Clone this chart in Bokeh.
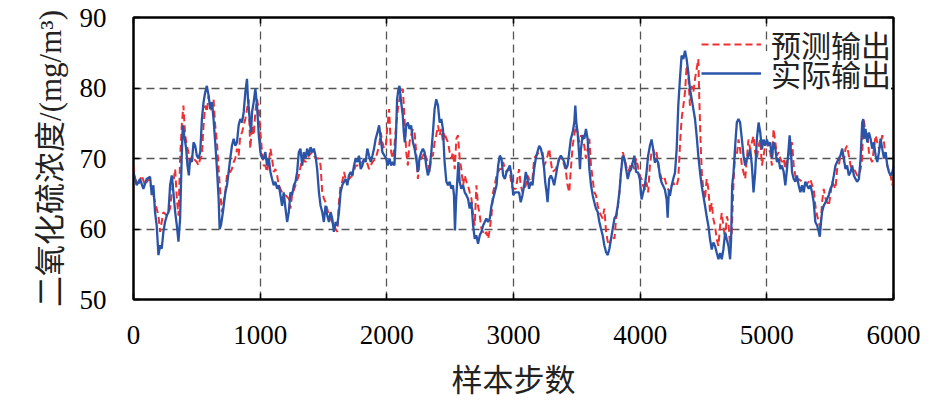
from bokeh.plotting import figure
from bokeh.models import Range1d, LinearAxis, FixedTicker, Legend, LegendItem
from bokeh.embed import file_html
from bokeh.resources import INLINE

# ---- data ----
actual_x = [0,25,51,78,104,131,144,157,170,183,197,210,223,236,249,263,276,289,302,315,329,342,355,368,381,389,400,416,426,437,447,461,474,487,500,513,527,540,553,566,579,593,606,619,632,645,659,672,680,690,706,725,738,751,764,777,791,804,817,830,843,857,870,883,896,904,917,928,936,949,962,975,989,1002,1015,
 1028,1041,1054,1068,1081,1094,1107,1120,1134,1147,1160,1173,1186,1200,1213,1226,1239,1252,1266,1279,1292,1305,1318,1332,1345,1358,1371,1384,1398,1411,1424,1437,1450,1464,1477,1490,1503,1516,1530,1543,1556,1569,1582,1596,1609,1622,1635,1648,1662,1675,1688,1701,1714,1728,1741,1754,1767,1780,1794,1807,1820,1833,1846,1860,1873,1886,1899,1912,1926,1939,1952,1965,
 1981,1994,2007,2021,2034,2047,2060,2073,2081,2092,2100,2113,2126,2134,2142,2153,2166,2179,2192,2206,2219,2232,2245,2258,2272,2285,2298,2311,2324,2338,2351,2364,2377,2390,2404,2417,2430,2443,2456,2470,2483,2496,2509,2522,2530,2538,2546,2554,2565,2575,2588,2602,2615,2628,2641,2654,2668,2681,2694,2707,2720,2734,2747,2760,2773,2786,2800,2813,2826,2839,2852,2866,2879,2892,2905,2918,2932,2945,2958,2971,2984,2998,3011,
 3031,3044,3057,3071,3084,3097,3110,3123,3137,3150,3163,3176,3189,3203,3216,3229,3242,3250,3261,3269,3282,3295,3308,3321,3335,3348,3361,3374,3387,3401,3414,3427,3440,3453,3467,3480,3488,3496,3506,3519,3525,3533,3546,3559,3572,3585,3599,3612,3625,3638,3651,3665,3678,3691,3704,3717,3731,3744,3757,3770,3783,3797,3810,3823,3836,3849,3863,3876,3889,3902,3915,3929,3942,3955,3968,
 3984,3997,4011,4024,4037,4050,4063,4077,4090,4103,4116,4129,4143,4156,4169,4182,4195,4209,4217,4227,4235,4248,4261,4275,4288,4301,4314,4327,4341,4354,4367,4380,4393,4407,4420,4433,4446,4459,4473,4486,4499,4512,4525,4539,4552,4565,4578,4591,4605,4618,4631,4644,4657,4671,4684,4697,4710,4718,4726,4737,4750,4763,4776,4789,4803,4816,4829,4842,4855,4869,4882,4895,4908,4921,4935,4948,4961,4974,4987,5001,5014,
 5027,5040,5053,5067,5080,5093,5106,5119,5133,5146,5159,5172,5180,5191,5199,5212,5225,5238,5251,5265,5278,5291,5304,5317,5331,5344,5357,5370,5383,5397,5410,5418,5428,5436,5449,5463,5476,5489,5502,5515,5529,5542,5555,5568,5581,5595,5608,5621,5634,5647,5661,5674,5687,5700,5713,5727,5740,5753,5761,5769,5779,5793,5806,5819,5832,5845,5859,5872,5885,5898,5911,5925,5938,5951,5964,5977,5991,6000]
actual_y = [68.1,66.2,67.1,65.7,67.1,67.4,64.8,66.2,62.4,60.5,56.3,57.7,57.2,59.6,61.0,61.9,62.4,66.2,67.6,65.2,62.4,60.5,58.2,61.5,70.4,74.7,73.3,71.4,69.0,67.6,70.0,69.5,72.3,71.8,70.4,70.0,70.9,75.6,78.0,79.4,80.3,78.9,77.0,78.0,75.6,72.3,68.5,64.3,60.0,60.5,62.4,65.2,66.2,68.1,70.0,71.8,72.8,71.8,72.3,74.7,75.6,75.1,76.6,79.4,81.3,78.4,75.6,73.7,76.6,78.0,79.9,77.5,73.3,70.9,70.0,
 70.0,70.9,69.0,70.0,68.1,67.1,66.2,66.7,65.7,66.2,64.8,63.3,65.2,62.9,61.0,62.4,65.2,64.8,66.2,66.7,68.1,70.9,71.4,69.0,70.9,70.0,71.4,70.4,71.6,70.9,71.4,70.4,68.5,65.2,63.3,62.4,61.0,63.3,61.9,61.0,62.4,61.5,59.6,61.0,60.5,62.4,65.2,66.2,66.7,67.1,66.2,67.6,68.1,67.6,69.0,70.0,69.5,70.4,68.5,69.0,70.0,69.5,71.4,70.4,69.5,70.4,71.4,72.8,73.7,74.7,72.8,70.9,
 70.4,70.0,69.0,70.0,69.0,69.5,69.0,73.7,78.4,79.9,80.3,78.0,76.1,73.7,72.3,74.7,75.1,74.2,74.7,72.3,71.4,70.0,68.1,70.0,70.9,71.4,70.9,69.0,67.6,68.5,70.9,73.7,77.0,78.4,77.5,75.1,75.6,74.2,69.5,66.7,66.2,66.7,65.7,66.2,64.8,59.8,63.8,66.2,69.5,66.7,65.7,66.2,65.2,64.8,64.3,62.9,63.8,60.5,58.6,59.1,57.9,59.1,59.6,60.5,61.0,61.5,61.0,61.5,63.3,64.3,65.2,66.2,69.0,70.4,70.0,67.6,67.1,68.1,68.5,69.0,67.6,64.8,65.2,
 65.2,65.2,63.8,64.8,66.2,68.1,67.1,65.7,66.7,66.2,68.5,70.0,70.9,71.8,71.4,70.4,68.5,66.7,65.2,63.8,67.1,67.6,67.1,66.2,67.6,69.0,70.0,70.4,70.0,69.5,68.5,69.0,70.9,72.8,73.7,75.1,77.5,75.1,73.7,70.4,68.5,71.4,73.3,72.8,74.2,72.8,68.5,66.2,64.8,63.8,62.9,62.4,61.0,60.0,59.1,57.7,56.7,56.3,57.2,58.6,60.0,61.5,61.9,63.3,65.2,68.1,70.4,70.0,68.5,67.1,68.1,68.5,69.5,70.4,68.1,
 68.0,67.1,64.2,65.2,66.1,68.0,70.4,71.8,72.7,71.3,69.4,69.9,69.4,67.5,66.6,66.1,65.6,64.2,61.6,65.6,64.7,66.1,67.1,68.0,71.3,77.5,81.3,84.6,84.1,85.3,84.1,82.2,79.9,78.4,77.0,75.6,73.2,70.4,68.0,66.1,64.7,63.3,61.8,60.4,58.5,57.1,58.1,57.6,56.6,55.7,56.6,55.7,57.1,59.5,58.5,57.6,55.7,58.5,66.1,68.0,71.8,75.1,75.6,75.1,72.7,70.4,69.0,69.9,70.4,71.3,69.0,65.2,68.0,72.7,75.1,73.7,71.3,72.7,71.8,72.7,71.8,
 72.3,70.0,72.3,71.4,69.5,70.0,68.5,69.0,68.1,66.2,68.5,71.4,73.3,70.9,68.1,67.1,66.7,67.6,66.2,65.2,66.2,65.2,66.7,66.2,65.7,66.2,65.2,63.8,61.0,60.5,59.6,58.9,61.0,62.4,63.3,63.8,64.3,64.8,65.7,66.2,67.6,69.0,69.5,70.0,70.4,71.4,70.0,68.5,69.0,67.6,68.1,69.0,67.6,67.1,66.7,67.1,70.0,75.1,75.6,72.8,74.2,72.3,73.7,72.8,71.4,72.3,70.4,69.5,70.9,72.8,71.4,70.0,70.9,69.0,68.1,67.6,68.1,68.8]

pred_x = [0,12,38,65,91,117,144,170,197,210,223,236,263,289,302,315,329,342,355,368,381,394,408,421,434,447,461,474,500,513,527,540,553,566,579,593,606,619,632,645,659,672,685,698,711,725,738,751,764,777,791,804,817,830,843,857,870,883,896,909,922,936,949,962,975,989,1002,1015,1028,
 1041,1054,1068,1081,1094,1107,1120,1134,1147,1173,1200,1226,1239,1252,1279,1305,1332,1358,1384,1411,1437,1464,1477,1490,1503,1516,1543,1569,1596,1609,1622,1635,1648,1662,1675,1701,1728,1754,1780,1807,1833,1860,1886,1912,1939,1952,1965,1978,1992,2005,2018,
 2034,2047,2060,2073,2087,2100,2113,2126,2140,2153,2166,2179,2192,2206,2219,2232,2245,2258,2272,2285,2298,2311,2324,2338,2351,2364,2377,2390,2404,2417,2430,2443,2456,2470,2483,2496,2509,2522,2536,2549,2562,2575,2588,2602,2615,2628,2641,2654,2668,2681,2694,2707,2720,2734,2747,2760,2773,2786,2800,2813,2826,2839,2852,2866,2879,2892,2905,2918,2932,2945,2958,2971,2984,2998,
 3018,3044,3057,3071,3097,3110,3123,3137,3150,3163,3176,3203,3229,3242,3255,3269,3282,3295,3308,3335,3361,3387,3414,3427,3440,3453,3467,3480,3493,3506,3519,3533,3546,3559,3572,3585,3599,3612,3625,3638,3651,3665,3678,3704,3717,3731,3744,3757,3770,3783,3797,3810,3823,3836,3849,3863,3876,3889,3902,3915,3929,3942,3955,3968,3981,3995,
 4011,4024,4037,4050,4063,4077,4090,4103,4116,4129,4143,4156,4169,4182,4195,4209,4222,4235,4248,4261,4275,4288,4301,4314,4327,4341,4354,4367,4380,4393,4407,4420,4433,4446,4459,4467,4478,4488,4499,4512,4525,4539,4552,4565,4578,4591,4605,4618,4631,4644,4657,4671,4684,4697,4710,4723,4737,4750,4763,4776,4789,4803,4816,4829,4842,4855,4869,4882,4895,4908,4921,4935,4948,4961,4974,4987,5001,5014,5027,
 5040,5053,5067,5080,5093,5106,5119,5133,5146,5159,5172,5185,5199,5212,5225,5238,5251,5278,5304,5331,5344,5357,5370,5383,5397,5410,5423,5436,5449,5463,5476,5489,5502,5515,5529,5542,5555,5568,5581,5595,5608,5621,5634,5647,5661,5674,5687,5700,5713,5727,5740,5753,5761,5769,5779,5793,5806,5819,5832,5845,5859,5872,5885,5898,5911,5925,5938,5951,5964,5977,5991,6000]
pred_y = [69.0,67.1,66.2,67.6,66.2,67.1,65.7,63.8,61.9,59.6,61.0,62.4,61.9,62.9,65.2,66.7,68.5,64.3,61.9,70.0,74.7,77.5,73.3,71.8,70.9,69.0,70.4,70.0,69.5,69.0,70.0,70.4,74.7,77.5,76.6,78.9,77.5,76.6,78.4,74.7,72.3,68.5,65.2,62.4,63.8,65.2,67.6,68.1,68.1,68.5,69.5,70.0,71.4,70.4,73.3,73.7,74.7,75.6,77.0,78.4,71.4,74.7,73.3,76.6,78.4,77.0,73.7,70.9,69.0,
 69.0,68.1,69.5,71.4,70.0,68.1,68.5,67.6,66.2,65.2,64.8,64.3,62.9,64.8,66.2,67.6,70.0,69.5,70.4,70.9,70.0,70.0,69.0,65.2,64.3,63.8,61.9,61.0,60.0,59.6,63.8,66.2,66.7,68.1,67.1,67.1,67.6,69.0,69.0,69.5,70.0,68.5,69.5,70.0,71.8,73.7,72.3,71.4,71.8,74.7,77.0,
 70.9,70.0,71.8,74.7,77.0,78.4,79.4,79.9,75.6,70.9,69.0,72.3,73.3,74.2,73.7,70.9,67.1,69.5,70.0,70.4,70.9,70.0,69.5,68.1,70.4,70.4,72.3,73.3,74.7,73.3,74.2,72.3,73.7,72.8,72.3,70.9,70.0,70.9,68.5,72.8,73.3,70.0,68.5,66.2,67.6,66.7,66.2,65.2,64.3,61.9,60.5,66.2,63.3,61.9,60.0,59.6,59.1,59.6,58.6,60.0,61.9,65.2,66.2,67.6,68.1,68.5,68.5,69.5,68.5,68.1,68.5,68.1,66.2,65.7,
 65.7,68.5,66.2,65.2,66.2,67.6,67.1,66.7,67.1,70.0,70.4,70.9,70.9,69.0,69.5,70.4,71.4,69.5,68.1,68.5,70.0,70.0,68.1,66.2,65.2,68.5,71.8,73.3,74.7,73.7,72.3,73.3,72.8,71.8,70.0,71.4,72.8,69.0,67.1,65.2,64.8,63.3,62.4,61.5,62.9,59.6,58.2,57.7,58.6,59.1,58.6,61.5,62.9,65.2,68.1,70.9,70.0,69.0,68.1,68.5,69.5,69.0,68.5,70.0,69.0,67.6,
 67.1,66.1,65.6,66.6,65.2,69.0,70.9,71.3,70.4,70.9,69.0,68.0,67.1,67.5,67.1,66.1,65.6,65.2,66.1,66.6,66.1,66.1,67.1,71.8,75.6,77.5,79.4,83.2,81.8,77.5,80.3,79.4,81.3,82.7,84.1,78.4,71.8,67.5,65.6,64.2,67.1,65.6,62.3,63.7,61.4,60.4,58.5,57.6,60.4,62.3,60.4,58.5,61.8,60.9,57.6,59.5,66.6,70.9,70.4,72.7,71.3,69.0,68.0,67.1,69.9,72.7,71.3,72.3,73.2,70.9,69.9,71.8,72.7,69.0,70.4,71.8,72.3,71.3,70.9,
 69.0,74.2,72.3,70.4,70.9,70.0,69.5,70.0,68.5,70.0,70.4,71.4,72.3,69.0,67.6,66.7,67.1,66.7,66.2,66.7,67.1,66.2,65.7,63.3,61.9,61.0,60.0,63.8,65.7,64.3,63.8,63.3,64.8,66.7,66.2,65.7,68.5,69.0,70.4,70.9,69.5,71.4,71.8,70.4,69.0,68.5,68.5,68.1,67.6,67.6,68.5,70.0,75.6,75.1,73.3,73.7,70.9,70.0,69.5,71.4,73.3,72.3,71.4,71.8,73.3,72.3,70.0,69.0,68.1,67.6,66.2,67.1]

x_ticks = [0, 1000, 2000, 3000, 4000, 5000, 6000]
y_ticks = [50, 60, 70, 80, 90]
x_label = "样本步数"
y_label = "二氧化硫浓度/(mg/m³)"
series_names = ["预测输出", "实际输出"]

SERIF = "'Liberation Serif', 'Noto Sans CJK SC', serif"
TICK_FS = "27px"
LABEL_FS = "31px"

p = figure(width=940, height=400, output_backend="svg", toolbar_location=None,
           x_range=Range1d(0, 6000), y_range=Range1d(50, 90),
           min_border_left=133, min_border_right=47, min_border_top=17, min_border_bottom=99)
p.background_fill_color = "white"
p.border_fill_color = "white"
p.outline_line_color = "black"
p.outline_line_width = 2

for ax in (p.xaxis[0], p.yaxis[0]):
    ax.axis_line_width = 2
    ax.axis_line_color = "black"
    ax.major_tick_in = 6
    ax.major_tick_out = 0
    ax.major_tick_line_width = 1.5
    ax.major_tick_line_color = "black"
    ax.minor_tick_line_color = None
    ax.major_label_text_font = SERIF
    ax.major_label_text_font_size = TICK_FS
    ax.major_label_text_color = "black"
    ax.axis_label_text_font = SERIF
    ax.axis_label_text_font_size = LABEL_FS
    ax.axis_label_text_font_style = "normal"
    ax.axis_label_text_color = "#222222"

p.xaxis.ticker = FixedTicker(ticks=x_ticks)
p.yaxis.ticker = FixedTicker(ticks=y_ticks)
p.xaxis.axis_label = x_label
p.yaxis.axis_label = y_label
p.xaxis.major_label_standoff = 26
p.xaxis.axis_label_standoff = 16
p.yaxis.major_label_standoff = 27
p.yaxis.axis_label_standoff = 9

for loc, tk in (("above", x_ticks), ("right", y_ticks)):
    ax = LinearAxis(ticker=FixedTicker(ticks=tk))
    ax.axis_line_width = 2
    ax.major_tick_in = 6
    ax.major_tick_out = 0
    ax.major_tick_line_width = 1.5
    ax.minor_tick_line_color = None
    ax.major_label_text_font_size = "1px"
    ax.major_label_text_color = None
    ax.major_label_standoff = 0
    p.add_layout(ax, loc)

for g, tk in ((p.xgrid[0], x_ticks), (p.ygrid[0], y_ticks)):
    g.ticker = FixedTicker(ticks=tk)
    g.grid_line_color = "#555555"
    g.grid_line_width = 1.3
    g.grid_line_dash = "8 5"

r_pred = p.line(pred_x, pred_y, line_color="#f03030", line_width=2.0, line_dash="7 4")
r_act = p.line(actual_x, actual_y, line_color="#2a54a8", line_width=2.3)


def make_legend(label, rend, loc, bg):
    lg = Legend(items=[LegendItem(label=label, renderers=[rend])], location=loc)
    lg.label_text_font = SERIF
    lg.label_text_font_size = "30px"
    lg.label_text_color = "#222222"
    lg.glyph_width = 60
    lg.label_standoff = 10
    lg.padding = 0
    lg.margin = 0
    lg.border_line_color = None
    lg.background_fill_color = "white"
    lg.background_fill_alpha = 1.0 if bg else 0.0
    return lg


# blue row (with white box) first, red row drawn over it
p.add_layout(make_legend(series_names[1], r_act, (568, 204), True))
p.add_layout(make_legend(series_names[0], r_pred, (568, 233), False))

open("out.html", "w").write(file_html(p, INLINE))
